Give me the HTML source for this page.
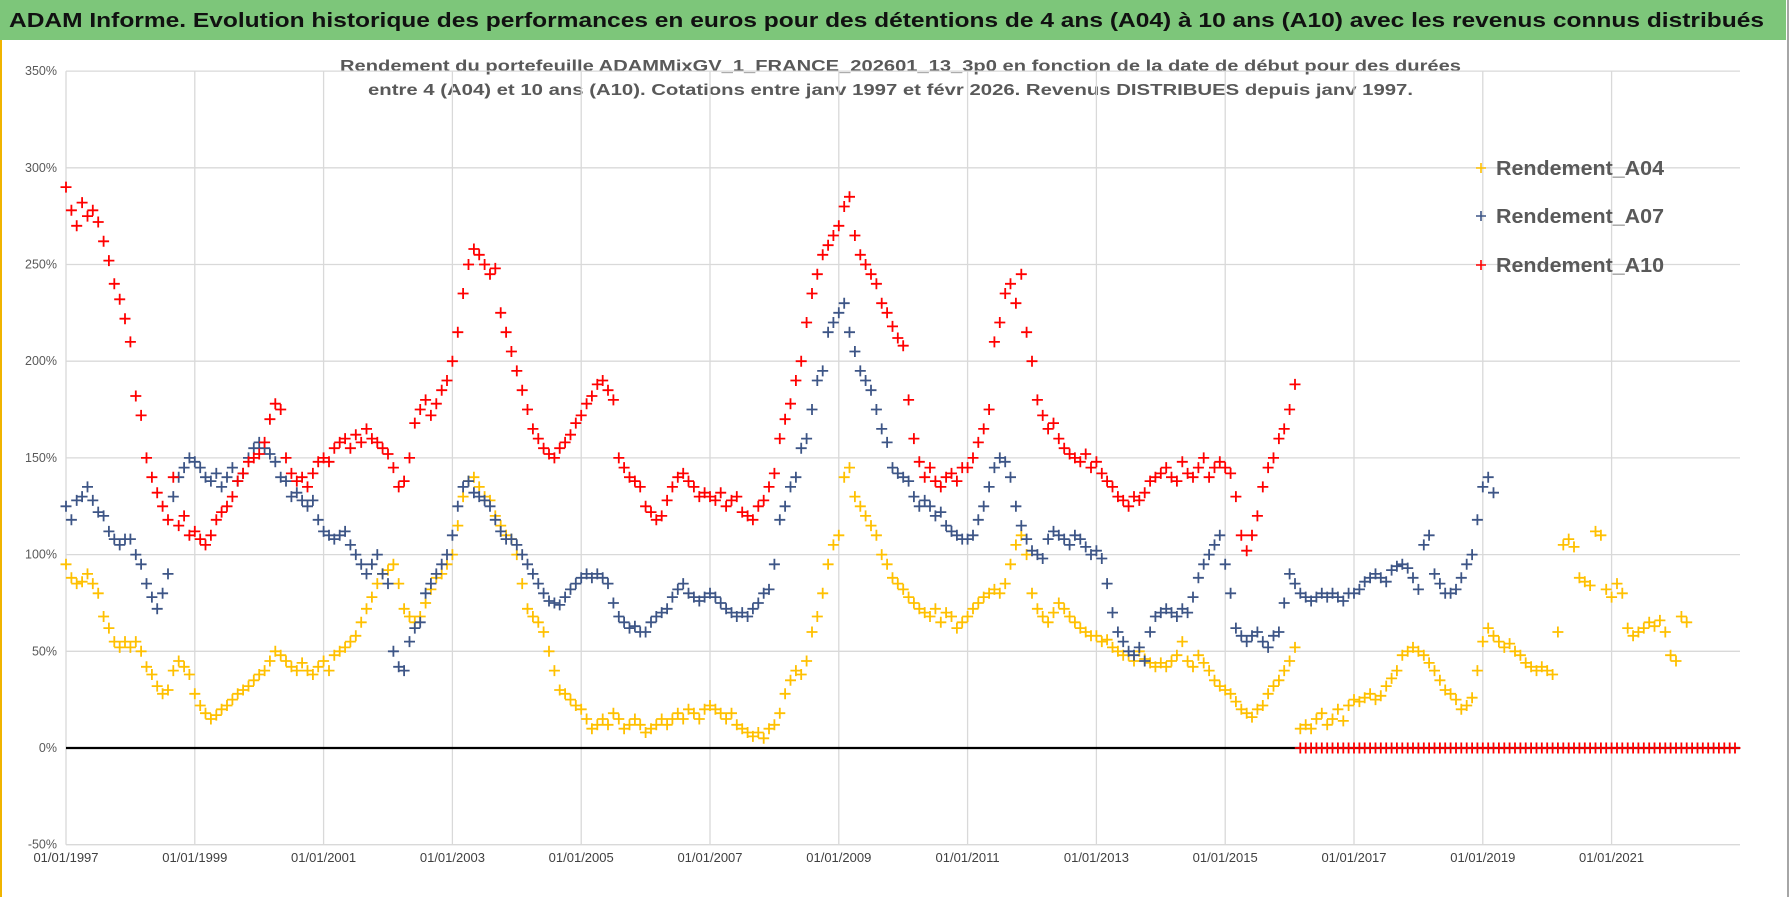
<!DOCTYPE html>
<html><head><meta charset="utf-8"><style>
html,body{margin:0;padding:0;background:#fff;}
svg{display:block;font-family:"Liberation Sans",sans-serif;}
</style></head><body>
<svg id="chart" width="1790" height="897" viewBox="0 0 1790 897" xmlns="http://www.w3.org/2000/svg">
<rect x="0" y="0" width="1790" height="897" fill="#fff"/>
<rect x="0" y="0" width="1786" height="40" fill="#7DC67A"/>
<line x1="1" y1="40" x2="1" y2="897" stroke="#F0B400" stroke-width="2"/>
<line x1="1788" y1="0" x2="1788" y2="897" stroke="#a6a6a6" stroke-width="2"/>
<text x="9" y="27" font-size="20" font-weight="bold" fill="#111" textLength="1755" lengthAdjust="spacingAndGlyphs">ADAM Informe. Evolution historique des performances en euros pour des détentions de 4 ans (A04) à 10 ans (A10) avec les revenus connus distribués</text>
<text x="340" y="71" font-size="16" font-weight="bold" fill="#595959" textLength="1121" lengthAdjust="spacingAndGlyphs">Rendement du portefeuille ADAMMixGV_1_FRANCE_202601_13_3p0  en fonction de la date de début pour des durées</text>
<text x="368" y="95" font-size="16" font-weight="bold" fill="#595959" textLength="1045" lengthAdjust="spacingAndGlyphs">entre 4 (A04) et 10 ans (A10). Cotations entre janv 1997 et févr 2026. Revenus DISTRIBUES depuis janv 1997.</text>
<g id="grid"></g><g id="axes"></g><g id="marks"></g><g id="legend"></g>
</svg>
<script>
const yTicks = [-50,0,50,100,150,200,250,300,350];
const xTickYears = [1997,1999,2001,2003,2005,2007,2009,2011,2013,2015,2017,2019,2021];
const xTickLabels = ["01/01/1997","01/01/1999","01/01/2001","01/01/2003","01/01/2005","01/01/2007","01/01/2009","01/01/2011","01/01/2013","01/01/2015","01/01/2017","01/01/2019","01/01/2021"];
const seriesNames = ["Rendement_A04","Rendement_A07","Rendement_A10"];
const startYear = 1997;
const a04 = [
95,88,85,86,90,85,80,68,62,55,52,55,
52,55,50,42,38,32,28,30,40,45,42,38,
28,22,18,15,17,20,22,25,28,30,32,35,
38,40,45,50,48,45,42,40,44,40,38,42,
45,40,48,50,52,55,58,65,72,78,85,90,
92,95,85,72,68,65,68,75,82,88,90,95,
100,115,130,138,140,135,130,128,120,115,110,108,
100,85,72,68,65,60,50,40,30,28,25,22,
20,15,10,12,15,12,18,15,10,12,15,12,
8,10,12,15,12,15,18,15,20,18,15,20,
22,20,18,15,18,12,10,8,6,8,5,10,
12,18,28,35,40,38,45,60,68,80,95,105,
110,140,145,130,125,120,115,110,100,95,88,85,
82,78,75,72,70,68,72,65,70,68,62,65,
68,72,75,78,80,82,80,85,95,105,110,100,
80,72,68,65,70,75,72,68,65,62,60,58,
58,55,56,52,50,48,48,45,50,46,44,42,
44,42,45,48,55,45,42,48,44,40,35,32,
30,28,24,20,18,16,20,22,28,32,35,40,
45,52,10,12,10,15,18,12,15,20,14,22,
25,24,26,28,25,27,32,36,40,48,50,52,
50,48,44,40,35,30,28,25,20,22,26,40,
55,62,58,55,52,54,50,48,44,42,40,42,
40,38,60,105,108,104,88,86,84,112,110,82,
78,85,80,62,58,60,62,65,63,66,60,48,
45,68,65];
const a07 = [
125,118,128,130,135,128,122,120,112,108,105,108,
108,100,95,85,78,72,80,90,130,140,145,150,
148,145,140,138,142,135,140,145,138,142,150,155,
158,155,152,148,140,138,130,132,128,125,128,118,
112,110,108,110,112,105,100,95,90,95,100,90,
85,50,42,40,55,62,65,80,85,90,95,100,
110,125,135,138,132,130,128,125,118,112,108,108,
105,100,95,90,85,80,76,75,74,78,82,85,
88,90,88,90,88,85,75,68,65,62,63,60,
60,65,68,70,72,78,82,85,80,78,76,78,
80,78,75,72,70,68,70,68,72,75,80,82,
95,118,125,135,140,155,160,175,190,195,215,220,
225,230,215,205,195,190,185,175,165,158,145,142,
140,138,130,125,128,125,120,122,115,112,110,108,
108,110,118,125,135,145,150,148,140,125,115,108,
102,100,98,108,112,110,108,105,110,108,104,100,
102,98,85,70,60,55,50,48,52,45,60,68,
70,72,70,68,72,70,78,88,95,100,105,110,
95,80,62,58,55,58,60,55,52,58,60,75,
90,85,80,78,76,78,80,78,80,78,76,80,
80,82,86,88,90,88,86,92,94,95,93,88,
82,105,110,90,85,80,80,82,88,95,100,118,
135,140,132];
const a10 = [
290,278,270,282,275,278,272,262,252,240,232,222,
210,182,172,150,140,132,125,118,140,115,120,110,
112,108,105,110,118,122,125,130,138,142,148,150,
152,158,170,178,175,150,142,138,140,135,142,148,
150,148,155,158,160,155,162,158,165,160,158,155,
152,145,135,138,150,168,175,180,172,178,185,190,
200,215,235,250,258,255,250,245,248,225,215,205,
195,185,175,165,160,155,152,150,155,158,162,168,
172,178,182,188,190,185,180,150,145,140,138,135,
125,122,118,120,128,135,140,142,138,135,130,132,
130,128,132,125,128,130,122,120,118,125,128,135,
142,160,170,178,190,200,220,235,245,255,260,265,
270,280,285,265,255,250,245,240,230,225,218,212,
208,180,160,148,140,145,138,135,140,142,138,145,
145,150,158,165,175,210,220,235,240,230,245,215,
200,180,172,165,168,160,155,152,150,148,152,145,
148,142,138,135,130,128,125,130,128,132,138,140,
142,145,140,138,148,142,140,145,150,140,145,148,
145,142,130,110,102,110,120,135,145,150,160,165,
175,188,0,0,0,0,0,0,0,0,0,0,
0,0,0,0,0,0,0,0,0,0,0,0,
0,0,0,0,0,0,0,0,0,0,0,0,
0,0,0,0,0,0,0,0,0,0,0,0,
0,0,0,0,0,0,0,0,0,0,0,0,
0,0,0,0,0,0,0,0,0,0,0,0,
0,0,0,0,0,0,0,0,0,0,0,0];
const colors = ["#FFC000","#3D5586","#FF0000"];

const NS = "http://www.w3.org/2000/svg";
const X0 = 66, PXY = 64.4, Y0 = 748, PXP = 96.7/50;
function xScale(t){ return X0 + (t - 1997) * PXY; }
function yScale(v){ return Y0 - v * PXP; }
const xMin = 66, xMax = 1740;
function mk(tag, attrs, parent){ const e = document.createElementNS(NS, tag); for (const k in attrs) e.setAttribute(k, attrs[k]); parent.appendChild(e); return e; }
const grid = document.getElementById('grid'), axes = document.getElementById('axes'), marks = document.getElementById('marks'), legend = document.getElementById('legend');

yTicks.forEach(v => {
  const y = yScale(v);
  const l = mk('line', {x1:xMin, x2:xMax, y1:y, y2:y, stroke:'#d9d9d9', 'stroke-width':1.3}, grid);
  
  
  const t = mk('text', {x:57, y:y+4, 'text-anchor':'end', 'font-size':12.5, fill:'#595959'}, axes);
  t.textContent = v + '%';
  
  
});
xTickYears.forEach((yr, i) => {
  const x = xScale(yr);
  const l = mk('line', {x1:x, x2:x, y1:yScale(350), y2:yScale(-50), stroke:'#d9d9d9', 'stroke-width':1.3}, grid);
  
  
  const t = mk('text', {x:x, y:862, 'text-anchor':'middle', 'font-size':13, fill:'#404040'}, axes);
  t.textContent = xTickLabels[i];
  
  
});
const zl = mk('line', {x1:xMin, x2:xMax, y1:yScale(0), y2:yScale(0), stroke:'#000', 'stroke-width':2.2}, axes);



function drawSeries(vals, color, name){
  const g = mk('g', {}, marks);
  
  
  let d = '';
  vals.forEach((v, i) => {
    const x = xScale(startYear + i / 12), y = yScale(v);
    d += 'M' + (x-5.5).toFixed(1) + ' ' + y.toFixed(1) + 'h11M' + x.toFixed(1) + ' ' + (y-5.5).toFixed(1) + 'v11';
  });
  const p = mk('path', {d:d, stroke:color, 'stroke-width':1.8, fill:'none'}, g);
  
  
}
drawSeries(a04, colors[0], 'a04');
drawSeries(a07, colors[1], 'a07');
drawSeries(a10, colors[2], 'a10');

const legY = [168, 216, 265];
seriesNames.forEach((n, i) => {
  const g = mk('g', {}, legend);
  
  
  mk('path', {d:'M1476 '+legY[i]+'h10M1481 '+(legY[i]-5)+'v10', stroke:colors[i], 'stroke-width':1.6}, g);
  const t = mk('text', {x:1496, y:legY[i]+7, 'font-size':20, 'font-weight':'bold', fill:'#595959', textLength:168, lengthAdjust:'spacingAndGlyphs'}, g);
  t.textContent = n;
  
  
});
</script>
</body></html>
